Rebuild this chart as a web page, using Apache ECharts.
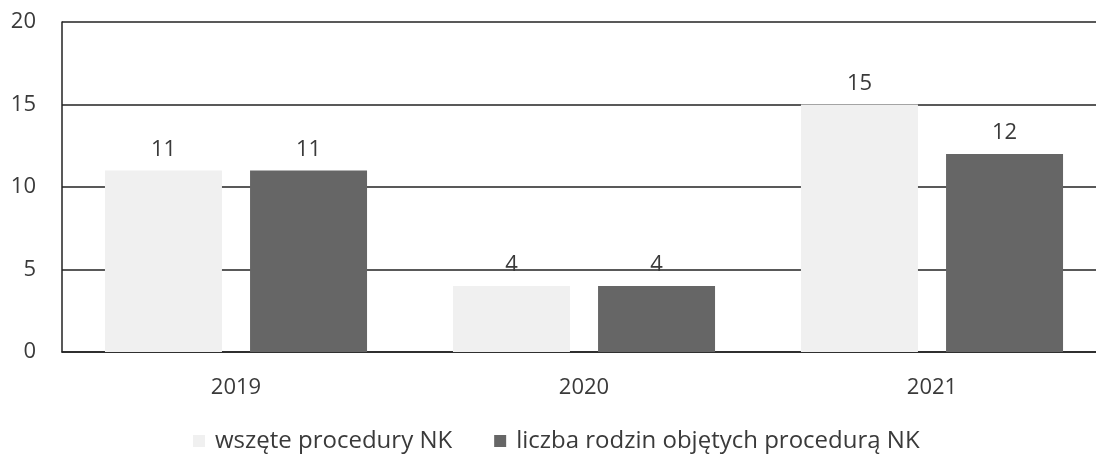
<!DOCTYPE html>
<html><head><meta charset="utf-8">
<script src="https://cdn.jsdelivr.net/npm/echarts@6/dist/echarts.min.js"></script>
<style>html,body{margin:0;padding:0;background:#fff}#c{width:1096px;height:454px}</style>
</head><body><div id="c"></div>
<script>
var categories = ['2019', '2020', '2021'];
var seriesNames = ['wszęte procedury NK', 'liczba rodzin objętych procedurą NK'];
var allProcedures = [11, 4, 15];
var families = [11, 4, 12];

var font = '"Open Sans", "Noto Sans", sans-serif';
var chart = echarts.init(document.getElementById('c'), null, {renderer: 'canvas'});
chart.setOption({
  animation: false,
  backgroundColor: '#fff',
  textStyle: {fontFamily: font},
  grid: {left: 62, top: 22, height: 330, width: 1044, containLabel: false, outerBoundsMode: 'none'},
  legend: {
    top: 428, left: 193, itemWidth: 12, itemHeight: 12, itemGap: 42, padding: 0,
    icon: 'rect',
    textStyle: {fontFamily: font, fontSize: 24, lineHeight: 26, color: '#3a3a3a', padding: [0, 0, 0, 5]},
    data: seriesNames
  },
  xAxis: {
    type: 'category', data: categories,
    axisLine: {show: true, lineStyle: {color: '#222', width: 1.5}},
    axisTick: {show: false},
    axisLabel: {fontFamily: font, fontSize: 22, color: '#3a3a3a', margin: 25}
  },
  yAxis: {
    type: 'value', min: 0, max: 20, interval: 5,
    axisLine: {show: true, lineStyle: {color: '#222', width: 1.5}},
    axisTick: {show: false},
    axisLabel: {fontFamily: font, fontSize: 22, color: '#3a3a3a', margin: 26},
    splitLine: {lineStyle: {color: '#222', width: 1.5}}
  },
  series: [
    {name: seriesNames[0], type: 'bar', data: allProcedures, barWidth: 117, barGap: '24%',
     itemStyle: {color: '#f0f0f0'},
     label: {show: true, position: 'top', distance: 10, fontFamily: font, fontSize: 22, color: '#3a3a3a'}},
    {name: seriesNames[1], type: 'bar', data: families, barWidth: 117,
     itemStyle: {color: '#666666'},
     label: {show: true, position: 'top', distance: 10, fontFamily: font, fontSize: 22, color: '#3a3a3a'}}
  ]
});
</script></body></html>
